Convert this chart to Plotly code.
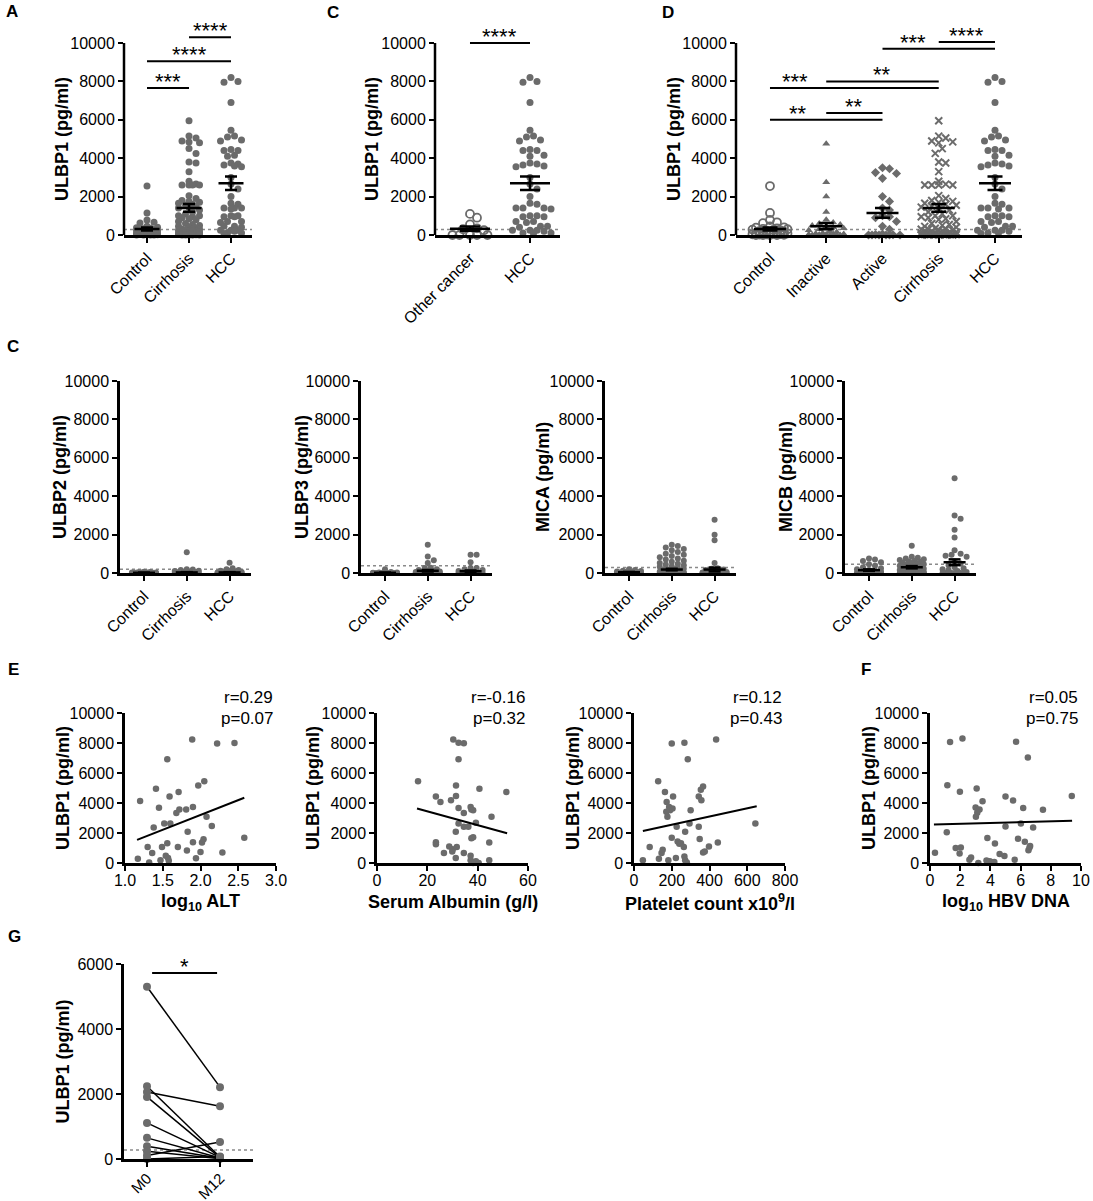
import numpy as np
import plotly.graph_objects as go

# ---------------- values (pg/ml) ----------------
grp3 = ["Control", "Cirrhosis", "HCC"]
grp_d = ["Control", "Inactive", "Active", "Cirrhosis", "HCC"]
grp_c = ["Other cancer", "HCC"]

ulbp1_control = [2550, 1150, 780, 660, 620, 450, 400, 380, 350, 320, 300, 280, 260, 240,
                 220, 200, 180, 150, 130, 110, 100, 80, 60, 50, 40, 30, 20, 10, 0, 0, 0, 0]
ulbp1_cirrhosis = [5950, 5150, 5050, 4900, 4850, 4800, 4500, 4250, 3800, 3750, 3300, 2800,
                   2650, 2600, 2600, 2600, 2600, 2050, 1900, 1800, 1750, 1700, 1650, 1600,
                   1550, 1500, 1450, 1400, 1300, 1200, 1100, 1000, 1000, 950, 900, 850, 800,
                   700, 600, 550, 500, 450, 400, 350, 300, 300, 300, 250, 250, 200, 200, 200,
                   150, 150, 100, 100, 100, 80, 60, 50, 50, 40, 30, 20, 20, 10, 0, 0, 0, 0, 0]
ulbp1_hcc = [8200, 8000, 7950, 6900, 5450, 5150, 5100, 4950, 4900, 4450, 4400, 4400, 4150,
             4100, 3750, 3700, 3650, 3600, 3550, 3000, 2650, 2400, 2000, 1650, 1600, 1400,
             1400, 1400, 1350, 1000, 1000, 950, 950, 700, 700, 650, 450, 450, 400, 250, 250,
             250, 200, 100, 100, 80]
ulbp1_inactive = [4750, 2750, 2000, 1200, 800, 650, 600, 550, 500, 450, 400, 350, 300, 250,
                  200, 150, 100, 80, 50, 50, 30, 20, 10, 0, 0, 0, 0, 0, 0, 0, 0, 0, 0, 0]
ulbp1_active = [3500, 3450, 3250, 3200, 2950, 2000, 1750, 1400, 1300, 1000, 950, 900, 700,
                450, 300, 50, 20, 10, 0, 0, 0, 0, 0, 0]
ulbp1_other = [1100, 900, 550, 350, 300, 250, 0, 0, 0, 0, 0]

# mean +/- SEM drawn as black bars
ulbp1_mean = [310, 460, 1150, 1410, 2700]   # Control, Inactive, Active, Cirrhosis, HCC
ulbp1_sem = [80, 160, 250, 200, 350]
other_mean = [330, 2700]
other_sem = [110, 350]
ulbp1_cutoff = 280

# significance bars
sig_a_pairs = [(0, 1), (0, 2), (1, 2)]
sig_a_y = [7650, 9050, 10300]
sig_a_text = ["***", "****", "****"]
sig_c_pairs = [(0, 1)]
sig_c_y = [10000]
sig_c_text = ["****"]
sig_d_pairs = [(0, 2), (1, 2), (0, 3), (1, 3), (2, 4), (3, 4)]
sig_d_y = [6000, 6350, 7650, 8000, 9700, 10050]
sig_d_text = ["**", "**", "***", "**", "***", "****"]
sig_d_textx = [0.5, 1.5, 0.45, 2.0, 2.54, 3.5]

# other ligands: Control, Cirrhosis, HCC
ulbp2 = [[60, 50, 40, 30, 30, 20, 20, 10, 10, 0, 0, 0, 0, 0, 0, 0, 0, 0, 0, 0],
         [1080, 200, 180, 150, 120, 100, 80, 60, 50, 40, 30, 20, 10] + [0] * 15,
         [530, 250, 200, 150, 120, 100, 80, 50, 30, 20, 10] + [0] * 12]
ulbp3 = [[200, 50, 30, 20, 10] + [0] * 15,
         [1470, 865, 660, 520, 270, 260, 200, 150, 120, 100, 80, 60, 50, 40, 30, 20, 10] + [0] * 18,
         [950, 950, 555, 260, 260, 200, 150, 100, 80, 50, 30, 20, 10] + [0] * 14]
mica = [[200, 150, 120, 100, 80, 60, 50, 40, 30, 20, 10] + [0] * 10,
        [1470, 1400, 1330, 1250, 1180, 1100, 1000, 950, 880, 820, 760, 700, 640, 580, 520,
         480, 440, 400, 350, 320, 280, 250, 220, 200, 170, 150, 120, 100, 80, 60, 40, 20] + [0] * 20,
        [2770, 1990, 1700, 520, 250, 220, 180, 150, 100, 80, 50, 30, 20] + [0] * 14]
micb = [[750, 700, 620, 560, 450, 380, 300, 250, 200, 150, 120, 100, 80, 60, 40, 20] + [0] * 8,
        [1420, 850, 800, 760, 720, 680, 640, 600, 580, 550, 520, 500, 460, 420, 380, 350, 320,
         300, 280, 250, 220, 200, 180, 150, 120, 100, 80, 60, 40, 20] + [0] * 10,
        [4930, 2990, 2820, 2250, 1850, 1190, 1000, 950, 900, 850, 600, 500, 400, 300, 250,
         200, 150, 100, 50] + [0] * 8]
lig_names = ["ULBP2", "ULBP3", "MICA", "MICB"]
lig_mean = [[10, 30, 30], [10, 115, 90], [40, 180, 180], [150, 300, 560]]
lig_sem = [[5, 15, 15], [5, 40, 40], [15, 40, 100], [40, 60, 150]]
lig_cutoff = [200, 380, 280, 450]

# correlations in HCC
e_alt_x = [1.20, 1.17, 1.32, 1.30, 1.36, 1.38, 1.41, 1.45, 1.47, 1.49, 1.52, 1.54, 1.56, 1.57,
           1.56, 1.59, 1.60, 1.58, 1.70, 1.68, 1.72, 1.71, 1.81, 1.82, 1.83, 1.89, 1.90, 1.90,
           1.94, 1.97, 2.00, 2.02, 2.04, 2.05, 2.08, 2.15, 2.22, 2.29, 2.45, 2.58]
e_alt_y = [4130, 290, 40, 1060, 660, 2370, 4950, 3690, 180, 1060, 2640, 480, 1320, 330, 6920,
           4440, 2640, 150, 1060, 3340, 3560, 4730, 3560, 840, 2090, 8240, 3740, 1390, 310,
           5170, 730, 1360, 1580, 5450, 3080, 2460, 7960, 700, 8000, 1690]
e_alb_x = [16.3, 30.3, 32.4, 34.5, 32.4, 23.4, 25.2, 29.4, 31.4, 31.4, 40.7, 51.4, 32.4, 34.5,
           37.2, 37.5, 38.2, 45.5, 32.4, 34.5, 36.3, 39.3, 31.3, 23.4, 23.4, 37.5, 38.2, 44.6,
           28.7, 30.1, 31.7, 29.9, 26.6, 34.5, 31.3, 37.2, 37.2, 39.3, 38.2, 40.4, 44.6]
e_alb_y = [5450, 8240, 8020, 7980, 6920, 4440, 4070, 4180, 4460, 5170, 4950, 4730, 3670, 3340,
           3740, 3560, 3520, 3080, 2640, 2420, 2420, 2680, 2090, 1390, 1250, 1650, 1710, 1360,
           1100, 920, 1060, 770, 660, 660, 330, 480, 180, 110, 0, 0, 180]
e_plt_x = [47, 83, 128, 132, 146, 152, 164, 173, 171, 177, 186, 191, 200, 204, 200, 182, 207,
           226, 231, 240, 222, 249, 264, 267, 267, 271, 271, 280, 285, 294, 300, 343, 348, 343,
           357, 354, 366, 366, 375, 397, 444, 435, 643]
e_plt_y = [180, 1060, 5450, 290, 660, 880, 4730, 4070, 3410, 3080, 3740, 3520, 7960, 3630, 1690,
           180, 4440, 2420, 1430, 1280, 330, 1320, 1060, 440, 8020, 2090, 180, 40, 6920, 2640,
           3520, 2420, 1600, 4440, 4180, 4880, 5100, 700, 770, 1100, 1360, 8240, 2640]
f_hbv_x = [0.33, 1.15, 1.11, 1.33, 1.70, 1.96, 2.04, 1.98, 2.15, 2.61, 2.72, 3.20, 3.09, 3.02,
           3.17, 3.13, 3.04, 3.28, 3.48, 3.80, 3.74, 3.96, 4.09, 4.26, 4.30, 4.61, 4.93, 5.00,
           5.00, 5.50, 5.61, 5.70, 5.83, 6.17, 6.02, 6.28, 6.48, 6.52, 6.59, 6.63, 6.83, 7.48, 9.39]
f_hbv_y = [690, 5180, 2050, 8060, 1000, 630, 1030, 4750, 8300, 220, 360, 0, 4960, 3700, 3530,
           3350, 3080, 3570, 4110, 1670, 160, 110, 50, 70, 1300, 600, 470, 4440, 2430, 4170, 220,
           8080, 1610, 3660, 2630, 1410, 7030, 850, 1030, 1140, 2370, 3550, 4460]
fit_x = [[1.16, 2.58], [15.9, 51.7], [47, 650], [0.26, 9.41]]
fit_y = [[1540, 4350], [3630, 1980], [2130, 3780], [2570, 2810]]
corr_r = ["r=0.29", "r=-0.16", "r=0.12", "r=0.05"]
corr_p = ["p=0.07", "p=0.32", "p=0.43", "p=0.75"]
corr_xtitle = ["log<sub>10</sub> ALT", "Serum Albumin (g/l)",
               "Platelet count x10<sup>9</sup>/l", "log<sub>10</sub> HBV DNA"]
corr_xrange = [[1, 3], [0, 60], [0, 800], [0, 10]]
corr_dtick = [0.5, 20, 200, 2]

# paired samples, month 0 vs month 12
g_m0 = [5300, 2240, 2060, 1910, 1110, 650, 390, 240, 110, 0]
g_m12 = [2210, 60, 1620, 40, 50, 30, 20, 10, 520, 80]

# ---------------- page geometry ----------------
FW, FH = 1093, 1201
FONT = "Liberation Sans, Arial, sans-serif"
GREY = "#6b6b6b"


def px_x(p):
    return p / FW


def px_y(p):
    return 1 - p / FH


def sfx(k):
    return "" if k == 1 else str(k)


def swarm(vals, spacing, k_y, dot, cap):
    # beeswarm offsets (category units) so dots sit side by side like the original
    vals = np.asarray(vals, float)
    ypx = vals * k_y
    order = np.argsort(-vals, kind="stable")
    cands = [0.0]
    for s in np.arange(dot * 0.5, cap + 1e-9, dot * 0.5):
        cands += [s, -s]
    pxs, pys = [], []
    off = np.zeros(len(vals))
    for i in order:
        best, bestd = 0.0, -1.0
        for c in cands:
            d = np.min(np.hypot(np.array(pxs) - c, np.array(pys) - ypx[i])) if pxs else np.inf
            if d >= dot * 0.9:
                best = c
                break
            if d > bestd:
                best, bestd = c, d
        pxs.append(best)
        pys.append(ypx[i])
        off[i] = best / spacing
    return off


fig = go.Figure()
layout = dict(width=FW, height=FH, margin=dict(l=0, r=0, t=0, b=0, pad=0), autosize=False,
              plot_bgcolor="white", paper_bgcolor="white", showlegend=False,
              font=dict(family=FONT, color="black", size=16))
shapes, annotations = [], []

tickfont = dict(family=FONT, size=16, color="black")


def set_axes(k, xpx, ybot, ytop, xrange, yrange, ytick, labels=None, xdtick=None,
             xfmt=None, yline=True, xfont=16, xstand=0):
    xa = dict(domain=[px_x(xpx[0]), px_x(xpx[1])], range=xrange, anchor="y" + sfx(k),
              ticks="outside", ticklen=5, tickwidth=2, tickcolor="black", showline=True,
              linewidth=2.5, linecolor="black", showgrid=False, zeroline=False,
              tickfont=dict(family=FONT, size=xfont, color="black"), fixedrange=True,
              automargin=False, ticklabelstandoff=xstand)
    if labels is not None:
        xa.update(tickmode="array", tickvals=list(range(len(labels))), ticktext=labels,
                  tickangle=-45)
    else:
        xa.update(tick0=0, dtick=xdtick, tickformat=xfmt)
    ya = dict(domain=[px_y(ybot), px_y(ytop)], range=yrange, anchor="x" + sfx(k),
              tick0=0, dtick=ytick, tickformat="d", ticks="outside", ticklen=5, tickwidth=2,
              tickcolor="black", showline=yline, linewidth=2.5, linecolor="black",
              showgrid=False, zeroline=False, tickfont=tickfont, fixedrange=True,
              automargin=False)
    layout["xaxis" + sfx(k)] = xa
    layout["yaxis" + sfx(k)] = ya


def ytitle(k, xpx, text, ymid):
    annotations.append(dict(text="<b>%s</b>" % text, x=px_x(xpx), xref="paper",
                            y=ymid, yref="y" + sfx(k), textangle=-90, showarrow=False,
                            font=dict(family=FONT, size=18, color="black"),
                            xanchor="center", yanchor="middle"))


def letter(text, xpx, ypx):
    annotations.append(dict(text="<b>%s</b>" % text, x=px_x(xpx), y=px_y(ypx), xref="paper",
                            yref="paper", showarrow=False, xanchor="center", yanchor="middle",
                            font=dict(family=FONT, size=17, color="black")))


def mean_bars(k, means, sems, spacing, mw, cw):
    xs, ys = [], []
    for i, (m, s) in enumerate(zip(means, sems)):
        mh, ch = mw / 2 / spacing, cw / 2 / spacing
        lo = max(m - s, 0)
        xs += [i - mh, i + mh, None, i, i, None, i - ch, i + ch, None, i - ch, i + ch, None]
        ys += [m, m, None, lo, m + s, None, m + s, m + s, None, lo, lo, None]
    fig.add_trace(go.Scatter(x=xs, y=ys, mode="lines", line=dict(color="black", width=2.5),
                             xaxis="x" + sfx(k), yaxis="y" + sfx(k), hoverinfo="skip"))


def cutoff(k, xrange, value):
    fig.add_trace(go.Scatter(x=xrange, y=[value, value], mode="lines",
                             line=dict(color="#8a8a8a", width=1.5, dash="dot"),
                             xaxis="x" + sfx(k), yaxis="y" + sfx(k), hoverinfo="skip"))


def dots(k, xs, ys, symbol="circle", size=7, lw=0):
    fig.add_trace(go.Scatter(x=xs, y=ys, mode="markers", cliponaxis=False,
                             marker=dict(symbol=symbol, size=size, color=GREY,
                                         line=dict(width=lw, color=GREY)),
                             xaxis="x" + sfx(k), yaxis="y" + sfx(k)))


def sig(k, pairs, yvals, texts, textx=None):
    for n, ((a, b), yv, t) in enumerate(zip(pairs, yvals, texts)):
        shapes.append(dict(type="line", xref="x" + sfx(k), yref="y" + sfx(k), x0=a, x1=b,
                           y0=yv, y1=yv, line=dict(color="black", width=2)))
        tx = (a + b) / 2 if textx is None else textx[n]
        annotations.append(dict(text=t, x=tx, y=yv, xref="x" + sfx(k), yref="y" + sfx(k),
                                showarrow=False, xanchor="center", yanchor="bottom",
                                yshift=-8, font=dict(family=FONT, size=22, color="black")))


def yaxis_line(k, frac):
    shapes.append(dict(type="line", xref="x%s domain" % sfx(k), yref="y%s domain" % sfx(k),
                       x0=0, x1=0, y0=0, y1=frac, line=dict(color="black", width=2.5)))


# ---------------- row 1: ULBP1 ----------------
K1 = 192 / 10000
YMAX = 10600
row1_top = 235 - YMAX * K1

# A
xr = [-0.548, 2.5]
set_axes(1, (124, 252), 235, row1_top, xr, [0, YMAX], 2000, labels=grp3, yline=False)
yaxis_line(1, 10000 / YMAX)
cutoff(1, xr, ulbp1_cutoff)
for i, v in enumerate([ulbp1_control, ulbp1_cirrhosis, ulbp1_hcc]):
    dots(1, i + swarm(v, 42, K1, 7, 13), v)
mean_bars(1, [ulbp1_mean[0], ulbp1_mean[3], ulbp1_mean[4]],
          [ulbp1_sem[0], ulbp1_sem[3], ulbp1_sem[4]], 42, 25, 12)
sig(1, sig_a_pairs, sig_a_y, sig_a_text)
ytitle(1, 62, "ULBP1 (pg/ml)", 5000)
letter("A", 12, 11)

# C (other cancer vs HCC)
xr = [-0.583, 1.5]
set_axes(2, (435, 560), 235, row1_top, xr, [0, YMAX], 2000, labels=grp_c, yline=False)
yaxis_line(2, 10000 / YMAX)
cutoff(2, xr, ulbp1_cutoff)
dots(2, 0 + swarm(ulbp1_other, 60, K1, 7, 20), ulbp1_other, "circle-open", 8, 1.8)
dots(2, 1 + swarm(ulbp1_hcc, 60, K1, 7, 21), ulbp1_hcc)
mean_bars(2, other_mean, other_sem, 60, 40, 20)
sig(2, sig_c_pairs, sig_c_y, sig_c_text)
ytitle(2, 372, "ULBP1 (pg/ml)", 5000)
letter("C", 333, 12)

# D (by disease phase)
xr = [-0.604, 4.48]
set_axes(3, (736, 1022), 235, row1_top, xr, [0, YMAX], 2000, labels=grp_d, yline=False)
yaxis_line(3, 10000 / YMAX)
cutoff(3, xr, ulbp1_cutoff)
d_sets = [ulbp1_control, ulbp1_inactive, ulbp1_active, ulbp1_cirrhosis, ulbp1_hcc]
d_sym = [("circle-open", 8, 1.8), ("triangle-up", 7, 0), ("diamond", 7, 0),
         ("x-thin-open", 7, 2), ("circle", 7, 0)]
for i, (v, (sy, sz, lw)) in enumerate(zip(d_sets, d_sym)):
    dots(3, i + swarm(v, 56.25, K1, 7, 18), v, sy, sz, lw)
mean_bars(3, ulbp1_mean, ulbp1_sem, 56.25, 32, 15)
sig(3, sig_d_pairs, sig_d_y, sig_d_text, sig_d_textx)
ytitle(3, 674, "ULBP1 (pg/ml)", 5000)
letter("D", 668, 12)

# ---------------- row 2: other NKG2D ligands ----------------
K2 = 192 / 10000
xr = [-0.56, 2.5]
for j, (name, data, left, tx) in enumerate(zip(lig_names, [ulbp2, ulbp3, mica, micb],
                                               [120, 361, 605, 845], [60, 302, 543, 786])):
    k = 4 + j
    set_axes(k, (left, left + 131), 573, 381, xr, [0, 10000], 2000, labels=grp3)
    cutoff(k, xr, lig_cutoff[j])
    for i, v in enumerate(data):
        dots(k, i + swarm(v, 42.8, K2, 6, 12), v, size=6)
    mean_bars(k, lig_mean[j], lig_sem[j], 42.8, 22, 12)
    ytitle(k, tx, name + " (pg/ml)", 5000)
letter("C", 13, 346)

# ---------------- row 3: correlations ----------------
cx = [e_alt_x, e_alb_x, e_plt_x, f_hbv_x]
cy = [e_alt_y, e_alb_y, e_plt_y, f_hbv_y]
lefts = [125, 377, 634, 930]
ytx = [63, 313, 573, 869]
for j in range(4):
    k = 8 + j
    left = lefts[j]
    set_axes(k, (left, left + 151), 863, 713, corr_xrange[j], [0, 10000], 2000,
             xdtick=corr_dtick[j], xfmt=".1f" if j == 0 else "d", xstand=-4)
    dots(k, cx[j], cy[j], size=6.5)
    fig.add_trace(go.Scatter(x=fit_x[j], y=fit_y[j], mode="lines",
                             line=dict(color="black", width=2),
                             xaxis="x" + sfx(k), yaxis="y" + sfx(k), hoverinfo="skip"))
    ytitle(k, ytx[j], "ULBP1 (pg/ml)", 5000)
    annotations.append(dict(text="<b>%s</b>" % corr_xtitle[j], x=0.5, xref="x%s domain" % sfx(k),
                            y=px_y(902), yref="paper", showarrow=False, xanchor="center",
                            yanchor="middle", font=dict(family=FONT, size=18, color="black")))
    for t, yy in zip([corr_r[j], corr_p[j]], [697, 718]):
        annotations.append(dict(text=t, x=px_x(left + 150), xref="paper", y=px_y(yy),
                                yref="paper", showarrow=False, xanchor="right",
                                yanchor="middle", font=dict(family=FONT, size=17, color="black")))
letter("E", 13, 669)
letter("F", 866, 669)

# ---------------- row 4: paired M0 vs M12 ----------------
set_axes(12, (124, 253), 1159, 964, [-0.315, 1.452], [0, 6000], 2000, labels=["M0", "M12"],
         xfont=15, xstand=-3)
cutoff(12, [-0.315, 1.452], ulbp1_cutoff)
gx, gy = [], []
for a, b in zip(g_m0, g_m12):
    gx += [0, 1, None]
    gy += [a, b, None]
fig.add_trace(go.Scatter(x=gx, y=gy, mode="lines", line=dict(color="black", width=1.5),
                         xaxis="x12", yaxis="y12", hoverinfo="skip"))
dots(12, [0] * len(g_m0), g_m0, size=8)
dots(12, [1] * len(g_m12), g_m12, size=8)
sig(12, [(0.07, 0.96)], [5720], ["*"])
ytitle(12, 62, "ULBP1 (pg/ml)", 3000)
letter("G", 14, 936)

layout["shapes"] = shapes
layout["annotations"] = annotations
fig.update_layout(**layout)
# drop the default 8px body margin so the figure fills the window exactly
fig.write_html("out.html", config={"displayModeBar": False},
               post_script="document.body.style.margin='0px';")
